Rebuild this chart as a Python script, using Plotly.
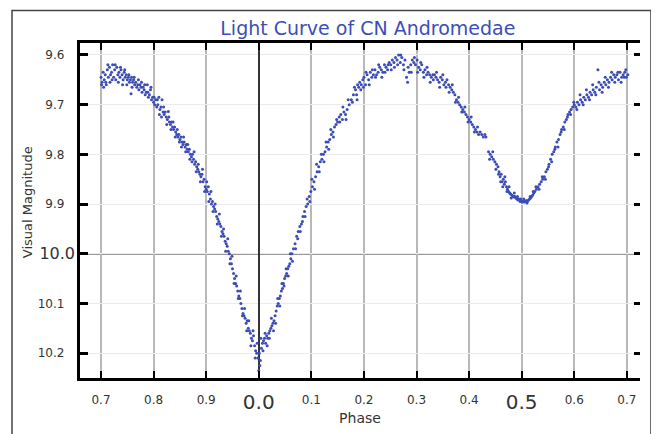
import numpy as np
import plotly.graph_objects as go

# ---- data: (phase, visual magnitude) ----
# phases 0.70 .. 1.00 (drawn to the left of phase 0.0)
late_phase_points = [
    (0.700, 9.645), (0.702, 9.655), (0.704, 9.635), (0.706, 9.65), (0.708, 9.64), (0.710, 9.66),
    (0.712, 9.63), (0.714, 9.645), (0.716, 9.625), (0.718, 9.64), (0.720, 9.635), (0.722, 9.62),
    (0.724, 9.645), (0.726, 9.63), (0.728, 9.65), (0.730, 9.625), (0.732, 9.64), (0.734, 9.635),
    (0.736, 9.645), (0.738, 9.63), (0.740, 9.64), (0.742, 9.65), (0.744, 9.635), (0.746, 9.645),
    (0.748, 9.64), (0.750, 9.65), (0.752, 9.645), (0.754, 9.655), (0.756, 9.65), (0.757, 9.678),
    (0.758, 9.645), (0.760, 9.655), (0.762, 9.65), (0.764, 9.66), (0.766, 9.655), (0.768, 9.665),
    (0.770, 9.66), (0.772, 9.67), (0.774, 9.66), (0.776, 9.665), (0.778, 9.675), (0.780, 9.665),
    (0.782, 9.67), (0.784, 9.68), (0.786, 9.675), (0.788, 9.66), (0.790, 9.685), (0.792, 9.68),
    (0.794, 9.67), (0.796, 9.69), (0.798, 9.685), (0.800, 9.695), (0.802, 9.70), (0.804, 9.69),
    (0.806, 9.705), (0.808, 9.70), (0.810, 9.685), (0.812, 9.71), (0.814, 9.705), (0.816, 9.69),
    (0.818, 9.715), (0.820, 9.72), (0.822, 9.715), (0.824, 9.725), (0.826, 9.73), (0.828, 9.714),
    (0.830, 9.735), (0.832, 9.74), (0.834, 9.735), (0.836, 9.745), (0.838, 9.75), (0.840, 9.745),
    (0.842, 9.755), (0.844, 9.76), (0.846, 9.765), (0.848, 9.76), (0.850, 9.77), (0.852, 9.765),
    (0.854, 9.775), (0.856, 9.78), (0.858, 9.775), (0.860, 9.785), (0.862, 9.78), (0.864, 9.79),
    (0.866, 9.795), (0.868, 9.79), (0.870, 9.80), (0.872, 9.805), (0.874, 9.80), (0.876, 9.81),
    (0.878, 9.82), (0.880, 9.815), (0.882, 9.825), (0.884, 9.83), (0.886, 9.835), (0.888, 9.84),
    (0.890, 9.845), (0.892, 9.84), (0.894, 9.855), (0.896, 9.85), (0.898, 9.865), (0.900, 9.87),
    (0.902, 9.875), (0.904, 9.865), (0.906, 9.88), (0.908, 9.89), (0.910, 9.90), (0.912, 9.895),
    (0.914, 9.905), (0.916, 9.91), (0.918, 9.915), (0.920, 9.925), (0.922, 9.93), (0.924, 9.935),
    (0.926, 9.94), (0.928, 9.945), (0.930, 9.955), (0.932, 9.96), (0.934, 9.965), (0.936, 9.975),
    (0.938, 9.98), (0.940, 9.985), (0.942, 9.995), (0.944, 10.00), (0.946, 10.01), (0.948, 10.02),
    (0.950, 10.03), (0.952, 10.04), (0.954, 10.05), (0.956, 10.06), (0.958, 10.065), (0.960, 10.075),
    (0.962, 10.085), (0.964, 10.09), (0.966, 10.10), (0.968, 10.11), (0.970, 10.12), (0.972, 10.125),
    (0.974, 10.13), (0.976, 10.14), (0.978, 10.135), (0.980, 10.15), (0.982, 10.155), (0.984, 10.16),
    (0.986, 10.17), (0.988, 10.175), (0.990, 10.165), (0.992, 10.185), (0.994, 10.195), (0.996, 10.20),
    (0.998, 10.21),
]

# phases 0.00 .. 0.70
early_phase_points = [
    (0.000, 10.235), (0.001, 10.20), (0.003, 10.215), (0.005, 10.19), (0.007, 10.18), (0.009, 10.175),
    (0.011, 10.17), (0.013, 10.18), (0.015, 10.165), (0.017, 10.17), (0.019, 10.16), (0.021, 10.155),
    (0.023, 10.15), (0.025, 10.145), (0.027, 10.14), (0.029, 10.135), (0.031, 10.125), (0.033, 10.115),
    (0.035, 10.105), (0.037, 10.10), (0.039, 10.09), (0.041, 10.085), (0.043, 10.075), (0.045, 10.07),
    (0.047, 10.06), (0.049, 10.05), (0.051, 10.045), (0.053, 10.04), (0.055, 10.03), (0.057, 10.025),
    (0.059, 10.02), (0.061, 10.01), (0.063, 10.00), (0.066, 9.99), (0.069, 9.98), (0.072, 9.965),
    (0.075, 9.955), (0.078, 9.945), (0.081, 9.94), (0.084, 9.925), (0.087, 9.915), (0.090, 9.905),
    (0.093, 9.90), (0.096, 9.885), (0.099, 9.875), (0.102, 9.865), (0.105, 9.855), (0.108, 9.845),
    (0.111, 9.835), (0.114, 9.825), (0.117, 9.815), (0.120, 9.81), (0.123, 9.80), (0.126, 9.795),
    (0.129, 9.785), (0.132, 9.775), (0.135, 9.77), (0.138, 9.76), (0.141, 9.755), (0.144, 9.745),
    (0.147, 9.74), (0.150, 9.735), (0.153, 9.725), (0.156, 9.72), (0.159, 9.73), (0.162, 9.715),
    (0.165, 9.72), (0.168, 9.71), (0.172, 9.70), (0.176, 9.69), (0.180, 9.68), (0.184, 9.67),
    (0.186, 9.68), (0.188, 9.66), (0.190, 9.665), (0.192, 9.655), (0.195, 9.66), (0.198, 9.65),
    (0.200, 9.645), (0.203, 9.66), (0.206, 9.64), (0.209, 9.65), (0.212, 9.635), (0.215, 9.645),
    (0.218, 9.64), (0.221, 9.63), (0.224, 9.64), (0.227, 9.635), (0.230, 9.625), (0.233, 9.63),
    (0.236, 9.635), (0.239, 9.62), (0.242, 9.625), (0.245, 9.63), (0.248, 9.615), (0.251, 9.62),
    (0.254, 9.61), (0.257, 9.615), (0.260, 9.605), (0.263, 9.61), (0.266, 9.60), (0.269, 9.615),
    (0.272, 9.605), (0.275, 9.62), (0.278, 9.61), (0.281, 9.645), (0.283, 9.655), (0.286, 9.635),
    (0.289, 9.62), (0.292, 9.61), (0.295, 9.615), (0.298, 9.62), (0.301, 9.61), (0.304, 9.625),
    (0.307, 9.63), (0.310, 9.62), (0.313, 9.635), (0.316, 9.63), (0.319, 9.64), (0.322, 9.635),
    (0.325, 9.64), (0.328, 9.645), (0.331, 9.64), (0.334, 9.64), (0.337, 9.645), (0.340, 9.65),
    (0.343, 9.655), (0.346, 9.645), (0.349, 9.65), (0.352, 9.66), (0.355, 9.655), (0.358, 9.65),
    (0.361, 9.66), (0.364, 9.665), (0.367, 9.67), (0.370, 9.675), (0.373, 9.68), (0.376, 9.69),
    (0.379, 9.695), (0.382, 9.70), (0.385, 9.705), (0.388, 9.71), (0.391, 9.715), (0.394, 9.72),
    (0.397, 9.725), (0.400, 9.73), (0.403, 9.735), (0.406, 9.74), (0.409, 9.745), (0.412, 9.75),
    (0.415, 9.755), (0.418, 9.76), (0.437, 9.795), (0.440, 9.80), (0.443, 9.805), (0.446, 9.81),
    (0.449, 9.815), (0.452, 9.82), (0.455, 9.825), (0.457, 9.835), (0.459, 9.845), (0.461, 9.84),
    (0.463, 9.855), (0.465, 9.85), (0.467, 9.86), (0.469, 9.855), (0.471, 9.865), (0.473, 9.87),
    (0.475, 9.875), (0.477, 9.878), (0.479, 9.88), (0.481, 9.882), (0.483, 9.884), (0.485, 9.886),
    (0.487, 9.885), (0.489, 9.888), (0.491, 9.89), (0.493, 9.892), (0.495, 9.89), (0.497, 9.895),
    (0.499, 9.895), (0.501, 9.896), (0.503, 9.894), (0.505, 9.896), (0.507, 9.895), (0.509, 9.893),
    (0.511, 9.895), (0.513, 9.892), (0.515, 9.89), (0.517, 9.888), (0.519, 9.885), (0.521, 9.882),
    (0.523, 9.878), (0.525, 9.875), (0.528, 9.87), (0.531, 9.865), (0.534, 9.86), (0.537, 9.855),
    (0.540, 9.85), (0.543, 9.845), (0.546, 9.835), (0.549, 9.83), (0.552, 9.82), (0.555, 9.81),
    (0.558, 9.80), (0.561, 9.795), (0.564, 9.785), (0.567, 9.775), (0.570, 9.77), (0.573, 9.76),
    (0.576, 9.75), (0.579, 9.745), (0.582, 9.735), (0.585, 9.73), (0.588, 9.72), (0.591, 9.715),
    (0.594, 9.71), (0.597, 9.705), (0.600, 9.70), (0.603, 9.705), (0.606, 9.695), (0.609, 9.70),
    (0.612, 9.69), (0.615, 9.695), (0.618, 9.685), (0.621, 9.69), (0.624, 9.68), (0.627, 9.685),
    (0.630, 9.675), (0.633, 9.68), (0.636, 9.67), (0.639, 9.675), (0.642, 9.665), (0.645, 9.63),
    (0.648, 9.67), (0.651, 9.66), (0.654, 9.665), (0.657, 9.655), (0.660, 9.66), (0.663, 9.65),
    (0.666, 9.655), (0.669, 9.645), (0.672, 9.65), (0.675, 9.64), (0.678, 9.645), (0.681, 9.64),
    (0.684, 9.65), (0.687, 9.635), (0.690, 9.645), (0.693, 9.64), (0.696, 9.635), (0.699, 9.645),
    (0.702, 9.64),
]

# further scattered observations (true phase; values above 0.70 belong left of 0.0)
extra_points = [
    (0.701, 9.66), (0.705, 9.665), (0.709, 9.655), (0.713, 9.62), (0.717, 9.655), (0.721, 9.65),
    (0.727, 9.62), (0.733, 9.655), (0.737, 9.625), (0.741, 9.66), (0.745, 9.63), (0.749, 9.66),
    (0.753, 9.64), (0.759, 9.665), (0.763, 9.645), (0.771, 9.65), (0.777, 9.655), (0.783, 9.66),
    (0.789, 9.675), (0.795, 9.665), (0.801, 9.685), (0.807, 9.69), (0.811, 9.72), (0.815, 9.725),
    (0.819, 9.705), (0.825, 9.74), (0.829, 9.725), (0.833, 9.75), (0.837, 9.735), (0.841, 9.765),
    (0.845, 9.75), (0.849, 9.775), (0.853, 9.785), (0.857, 9.765), (0.861, 9.795), (0.865, 9.78),
    (0.869, 9.81), (0.873, 9.815), (0.877, 9.795), (0.881, 9.835), (0.885, 9.82), (0.889, 9.855),
    (0.893, 9.83), (0.897, 9.875), (0.901, 9.855), (0.905, 9.895), (0.909, 9.875), (0.913, 9.915),
    (0.917, 9.90), (0.921, 9.94), (0.925, 9.92), (0.929, 9.965), (0.933, 9.95), (0.937, 9.995),
    (0.941, 9.97), (0.945, 10.02), (0.949, 10.005), (0.953, 10.06), (0.957, 10.045), (0.961, 10.09),
    (0.965, 10.075), (0.969, 10.125), (0.973, 10.11), (0.977, 10.155), (0.981, 10.135), (0.985, 10.185),
    (0.989, 10.155), (0.993, 10.21), (0.997, 10.18),
    (0.002, 10.225), (0.004, 10.17), (0.008, 10.195), (0.012, 10.16), (0.016, 10.185), (0.020, 10.17),
    (0.024, 10.13), (0.028, 10.155), (0.032, 10.14), (0.036, 10.09), (0.040, 10.105), (0.044, 10.06),
    (0.048, 10.065), (0.052, 10.03), (0.056, 10.045), (0.060, 10.00), (0.064, 10.015), (0.070, 9.99),
    (0.074, 9.97), (0.079, 9.955), (0.083, 9.935), (0.088, 9.925), (0.092, 9.89), (0.097, 9.895),
    (0.101, 9.85), (0.106, 9.87), (0.110, 9.82), (0.115, 9.835), (0.119, 9.80), (0.124, 9.815),
    (0.128, 9.775), (0.133, 9.79), (0.137, 9.75), (0.142, 9.765), (0.148, 9.73), (0.154, 9.735),
    (0.160, 9.705), (0.166, 9.73), (0.170, 9.69), (0.178, 9.695), (0.182, 9.665), (0.187, 9.69),
    (0.194, 9.67), (0.199, 9.665), (0.204, 9.635), (0.210, 9.66), (0.216, 9.63), (0.222, 9.645),
    (0.228, 9.62), (0.234, 9.645), (0.240, 9.635), (0.246, 9.62), (0.252, 9.63), (0.258, 9.625),
    (0.264, 9.62), (0.270, 9.60), (0.276, 9.63), (0.284, 9.625), (0.290, 9.635), (0.296, 9.605),
    (0.302, 9.635), (0.308, 9.615), (0.314, 9.645), (0.320, 9.625), (0.326, 9.655), (0.332, 9.65),
    (0.338, 9.635), (0.344, 9.665), (0.350, 9.64), (0.356, 9.665), (0.362, 9.675), (0.368, 9.66),
    (0.374, 9.695), (0.380, 9.685), (0.386, 9.715), (0.392, 9.705), (0.398, 9.735), (0.404, 9.725),
    (0.410, 9.755), (0.416, 9.745), (0.421, 9.755), (0.424, 9.76), (0.427, 9.765), (0.430, 9.76),
    (0.432, 9.765), (0.439, 9.81), (0.445, 9.795), (0.451, 9.83), (0.456, 9.84),
    (0.460, 9.855), (0.464, 9.865), (0.468, 9.845), (0.472, 9.875), (0.476, 9.865), (0.480, 9.888),
    (0.486, 9.878), (0.492, 9.885), (0.498, 9.89), (0.504, 9.89), (0.510, 9.898), (0.516, 9.885),
    (0.522, 9.875), (0.527, 9.865), (0.533, 9.87), (0.539, 9.845), (0.545, 9.85), (0.551, 9.825),
    (0.557, 9.815), (0.563, 9.79), (0.569, 9.785), (0.575, 9.755), (0.581, 9.75), (0.587, 9.725),
    (0.593, 9.72), (0.599, 9.695), (0.605, 9.71), (0.611, 9.68), (0.617, 9.70), (0.623, 9.67),
    (0.629, 9.69), (0.635, 9.66), (0.641, 9.68), (0.647, 9.655), (0.653, 9.675), (0.659, 9.645),
    (0.665, 9.665), (0.671, 9.635), (0.677, 9.655), (0.683, 9.635), (0.689, 9.655), (0.695, 9.645),
    (0.698, 9.63),
]

tick_phase = [-0.3, -0.2, -0.1, 0.0, 0.1, 0.2, 0.3, 0.4, 0.5, 0.6, 0.7]
tick_phase_text = ["0.7", "0.8", "0.9", "", "0.1", "0.2", "0.3", "0.4", "", "0.6", "0.7"]
big_phase = [0.0, 0.5]
big_phase_text = ["0.0", "0.5"]
tick_mag = [9.6, 9.7, 9.8, 9.9, 10.0, 10.1, 10.2]
NB = "\u00a0\u00a0\u00a0"
tick_mag_text = ["9.6" + NB, "9.7" + NB, "9.8" + NB, "9.9" + NB, "", "10.1" + NB, "10.2" + NB]
big_mag = [10.0]
big_mag_text = ["10.0"]

# ---- build ----
lp = np.array(late_phase_points)
ep = np.array(early_phase_points)
xp = np.array(extra_points)
x = np.concatenate([lp[:, 0] - 1.0, ep[:, 0], np.where(xp[:, 0] > 0.7, xp[:, 0] - 1.0, xp[:, 0])])
y = np.concatenate([lp[:, 1], ep[:, 1], xp[:, 1]])

FONT = "DejaVu Sans"
XR = [-0.34, 0.725]
YR = [10.25, 9.576]
fig = go.Figure()
fig.add_trace(go.Scatter(x=x, y=y, mode="markers",
                         marker=dict(size=3, color="#3b4cb5"),
                         showlegend=False, hoverinfo="skip"))
fig.add_trace(go.Scatter(x=[None], y=[None], yaxis="y2", showlegend=False))
fig.add_trace(go.Scatter(x=[None], y=[None], xaxis="x2", showlegend=False))
fig.add_trace(go.Scatter(x=[None], y=[None], yaxis="y3", showlegend=False))

fig.add_shape(type="line", xref="paper", yref="y", x0=0, x1=1, y0=10.0, y1=10.0,
              line=dict(color="#333333", width=1.5), layer="below")
# outer frame
fig.add_shape(type="rect", xref="paper", yref="paper", x0=-0.1214, x1=1.0196, y0=-0.3, y1=1.097,
              line=dict(color="#444444", width=1.5))
fig.add_annotation(text="Visual Magnitude", textangle=-90, xref="paper", yref="paper",
                   x=-0.0946, y=0.525, xanchor="center", yanchor="middle", showarrow=False,
                   font=dict(family=FONT, size=13, color="#333333"))

fig.update_layout(
    width=659, height=434,
    margin=dict(l=72, r=27, t=35, b=64),
    paper_bgcolor="white", plot_bgcolor="white",
    font=dict(family=FONT, color="#333333"),
    title=dict(text="Light Curve of CN Andromedae", x=0.514, xref="paper", xanchor="center",
               y=0.954, yanchor="middle", font=dict(family=FONT, size=19, color="#3d4db7")),
    xaxis=dict(range=XR, tickvals=tick_phase, ticktext=tick_phase_text,
               showgrid=True, gridcolor="#b8b8b8", gridwidth=2,
               zeroline=True, zerolinecolor="#333333", zerolinewidth=1.5,
               showline=True, linecolor="black", linewidth=2.5, mirror="ticks",
               ticks="inside", ticklen=7, tickwidth=2, tickcolor="black",
               ticklabelstandoff=9,
               tickfont=dict(family=FONT, size=12, color="#333333"),
               title=dict(text="Phase", font=dict(family=FONT, size=14, color="#333333"), standoff=8)),
    xaxis2=dict(overlaying="x", side="bottom", anchor="y", range=XR, tickvals=big_phase,
                ticktext=big_phase_text, showgrid=False, zeroline=False, showline=False,
                ticks="", ticklabelstandoff=10,
                tickfont=dict(family=FONT, size=20, color="#333333")),
    yaxis=dict(range=YR, tickvals=tick_mag, ticktext=tick_mag_text,
               showgrid=True, gridcolor="#ebebeb", gridwidth=1, zeroline=False,
               showline=True, linecolor="black", linewidth=2.5,
               ticks="inside", ticklen=8, tickwidth=2.5, tickcolor="black",
               ticklabelstandoff=-1,
               tickfont=dict(family=FONT, size=12, color="#333333")),
    yaxis2=dict(overlaying="y", side="right", range=YR, tickvals=tick_mag,
                showticklabels=False, ticks="inside", ticklen=6, tickwidth=2.5, tickcolor="black",
                showline=False, showgrid=False, zeroline=False),
    yaxis3=dict(overlaying="y", side="left", anchor="x", range=YR, tickvals=big_mag,
                ticktext=big_mag_text, ticks="", showline=False, showgrid=False, zeroline=False,
                ticklabelstandoff=4,
                tickfont=dict(family=FONT, size=16, color="#333333")),
)

fig.write_html("out.html")
